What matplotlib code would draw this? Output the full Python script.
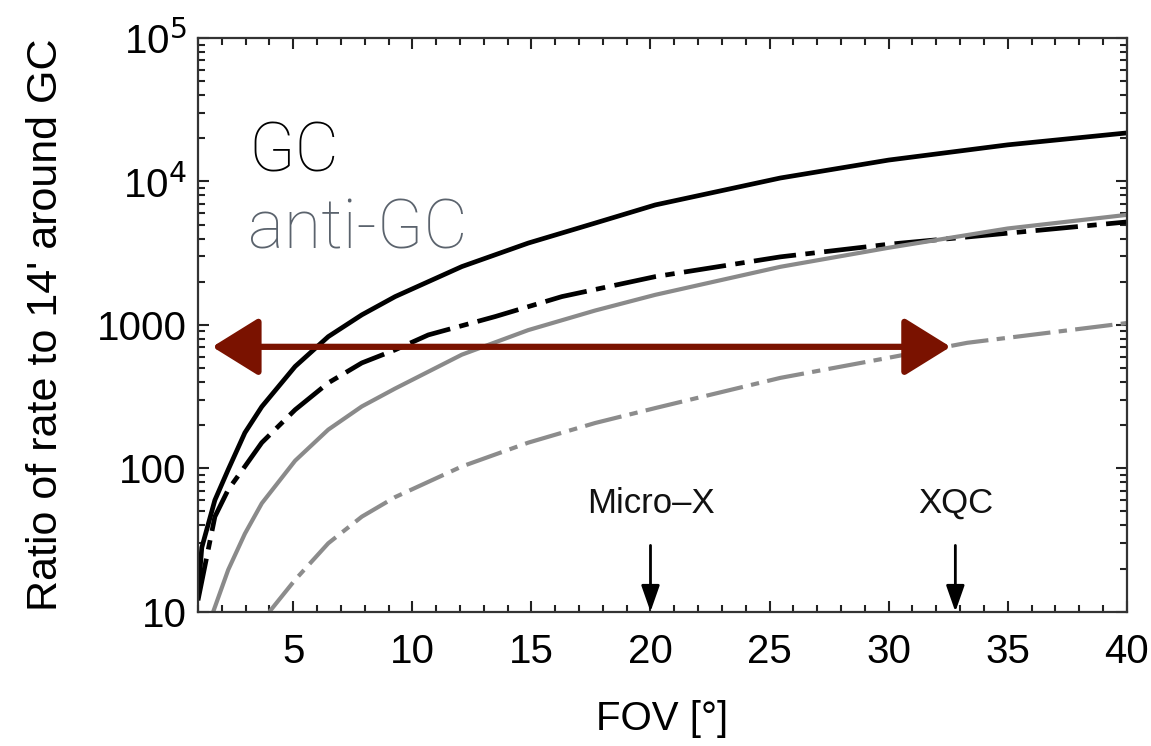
import matplotlib
matplotlib.use("Agg")
import matplotlib.pyplot as plt
from matplotlib.ticker import MultipleLocator, LogLocator, NullFormatter

plt.rcParams['font.family'] = ['Liberation Sans', 'DejaVu Sans']

# GC, solid black
fov_gc_solid = [1.0, 1.16, 1.71, 2.27, 2.97, 3.68, 5.08, 6.47, 7.88, 9.28, 12.08, 14.87,
                17.68, 20.2, 25.45, 30.0, 35.0, 40.0]
gc_solid = [13, 28, 60, 98, 177, 269, 513, 828, 1175, 1575, 2550, 3720,
            5130, 6860, 10570, 14100, 18000, 21800]

# GC, dash-dot black
fov_gc_dash = [1.0, 1.71, 2.27, 2.97, 3.68, 5.08, 6.47, 7.88, 9.28, 10.67, 13.48, 16.28,
               20.2, 25.45, 30.0, 33.3, 40.0]
gc_dash = [12, 46, 71, 103, 151, 256, 394, 543, 670, 851, 1143, 1575,
           2170, 2980, 3650, 4100, 5220]

# anti-GC, solid gray
fov_anti_solid = [1.64, 2.27, 2.97, 3.68, 5.08, 6.47, 7.88, 9.28, 12.08, 14.87, 17.68,
                  20.2, 25.45, 30.0, 35.0, 40.0]
anti_solid = [10, 19.6, 35, 57, 113, 186, 270, 360, 620, 920, 1260,
              1620, 2540, 3450, 4700, 5850]

# anti-GC, dashed gray
fov_anti_dash = [4.0, 5.08, 6.47, 7.88, 9.28, 12.08, 14.87, 17.68, 20.2, 25.45, 30.0, 33.3, 40.0]
anti_dash = [10, 16.7, 30, 46, 63, 103, 151, 207, 263, 427, 590, 750, 1030]

# red range arrow
range_fov = [1.6, 32.6]
range_level = 703

# instrument markers
instruments = ["Micro–X", "XQC"]
instrument_fov = [20.0, 32.8]

yticks = [10, 100, 1000, 1e4, 1e5]
ytick_labels = ["10", "100", "1000", r"10$^{4}$", r"10$^{5}$"]
xticks = [5, 10, 15, 20, 25, 30, 35, 40]

fig = plt.figure(figsize=(11.51, 7.46), dpi=100)
ax = fig.add_axes([0.172, 0.180, 0.807, 0.769])

ax.plot(fov_gc_solid, gc_solid, color='black', lw=3.4)
ax.plot(fov_gc_dash, gc_dash, color='black', lw=3.4, dashes=(9, 2, 2, 2))
ax.plot(fov_anti_solid, anti_solid, color='#8a8a8a', lw=3.0)
ax.plot(fov_anti_dash, anti_dash, color='#8c8c8c', lw=3.0, dashes=(9, 2, 2, 2))

ax.annotate('', xy=(range_fov[0], range_level), xytext=(range_fov[1], range_level),
            arrowprops=dict(arrowstyle='<|-|>,head_length=2.9,head_width=1.8',
                            mutation_scale=10, color='#7a1200', lw=4.5,
                            shrinkA=0, shrinkB=0))

for name, fx in zip(instruments, instrument_fov):
    ax.annotate('', xy=(fx, 10), xytext=(fx, 29),
                arrowprops=dict(arrowstyle='-|>,head_length=2.0,head_width=0.7',
                                mutation_scale=8, color='black', lw=2,
                                shrinkA=0, shrinkB=0))
    ax.text(fx, 57, name, ha='center', va='center', fontsize=25, color='#111111')

ax.text(0.054, 0.767, "GC", transform=ax.transAxes, fontsize=49,
        family=['Roboto', 'DejaVu Sans'], fontweight='light', color='black', va='baseline')
ax.text(0.054, 0.634, "anti-GC", transform=ax.transAxes, fontsize=49,
        family=['Roboto', 'DejaVu Sans'], fontweight='light', color='#5b636d', va='baseline')

ax.set_yscale('log')
ax.set_xlim(1, 40)
ax.set_ylim(10, 1e5)
ax.set_xticks(xticks)
ax.xaxis.set_minor_locator(MultipleLocator(1))
ax.set_yticks(yticks)
ax.set_yticklabels(ytick_labels)
ax.yaxis.set_minor_locator(LogLocator(base=10, subs=range(2, 10)))
ax.yaxis.set_minor_formatter(NullFormatter())

ax.tick_params(which='both', direction='in', top=True, right=True, width=1.5, color='#222222')
ax.tick_params(which='major', length=8)
ax.tick_params(which='minor', length=5)
ax.tick_params(axis='x', which='major', labelsize=29, pad=15)
ax.tick_params(axis='y', which='major', labelsize=29, pad=8)
for sp in ax.spines.values():
    sp.set_linewidth(1.6)
    sp.set_color('#333333')

ax.set_xlabel("FOV [°]", fontsize=29, labelpad=21)
ax.set_ylabel("Ratio of rate to 14' around GC", fontsize=31, labelpad=22)

fig.savefig("out.png", dpi=100)
